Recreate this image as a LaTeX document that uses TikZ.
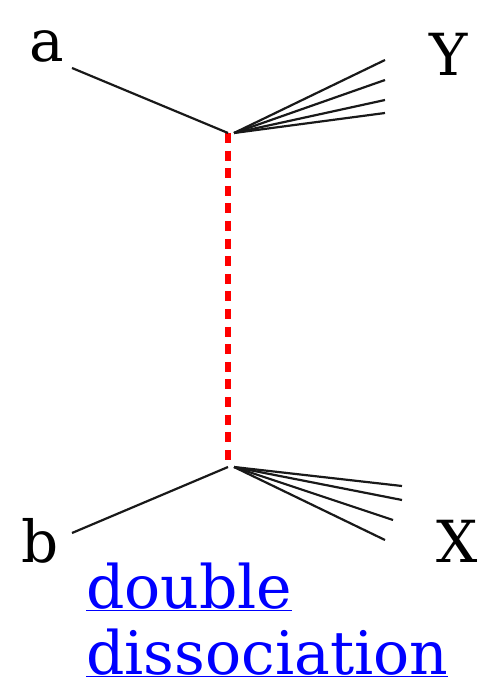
\documentclass[tikz,border=0pt]{standalone}
\usepackage{fontspec}
\setmainfont{DejaVu Serif}
\begin{document}
\begin{tikzpicture}[x=1pt,y=-1pt,
  leg/.style={line width=2.2pt,black!90},
  pomeron/.style={line width=5.5pt,red,dash pattern=on 10pt off 7.6pt},
  lbl/.style={inner sep=0pt,anchor=base,font=\fontsize{58}{62}\selectfont},
  link/.style={inner sep=0pt,anchor=base west,text=blue,font=\fontsize{60}{66}\selectfont}]
\useasboundingbox (0,0) rectangle (488,684);
\coordinate (vt) at (228,133);
\coordinate (vb) at (228,467);
\coordinate (a0) at (72,68);
\coordinate (b0) at (72,533);
\coordinate (y1) at (385,60);
\coordinate (y2) at (385,80);
\coordinate (y3) at (385,100);
\coordinate (y4) at (385,113);
\coordinate (x1) at (402,486);
\coordinate (x2) at (402,500);
\coordinate (x3) at (393,520);
\coordinate (x4) at (385,540);
\coordinate (vts) at (234,133);
\coordinate (vbs) at (234,467);
\draw[pomeron] (vt) -- (vb);
\draw[leg] (a0) -- (vt);
\draw[leg] (b0) -- (vb);
\foreach \p in {y1,y2,y3,y4} \draw[leg] (vts) -- (\p);
\foreach \p in {x1,x2,x3,x4} \draw[leg] (vbs) -- (\p);
\node[lbl] (la) at (47,62) {a};
\node[lbl] (lY) at (449,76) {Y};
\node[lbl] (lb) at (40,562) {b};
\node[lbl] (lX) at (457,562) {X};
\node[link] (t1) at (86,608) {\underline{double}};
\node[link] (t2) at (86,674) {\underline{dissociation}};
\end{tikzpicture}
\end{document}
